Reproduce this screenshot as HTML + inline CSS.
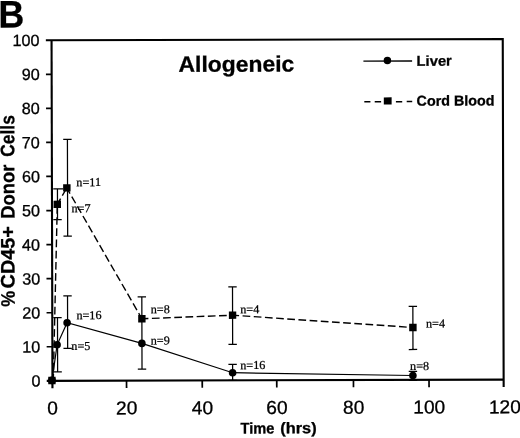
<!DOCTYPE html>
<html><head><meta charset="utf-8"><title>B</title>
<style>
html,body{margin:0;padding:0;background:#fff;}
body{width:520px;height:438px;overflow:hidden;}
svg{display:block;}
text{fill:#000;}
.s{font-family:"Liberation Sans",Arial,Helvetica,sans-serif;stroke:#000;stroke-width:0.3px;}
.t{font-family:"Liberation Serif","Times New Roman",serif;font-size:12.2px;stroke:#000;stroke-width:0.25px;}
</style></head><body>
<svg width="520" height="438" viewBox="0 0 520 438">
<rect width="520" height="438" fill="#fff"/>
<g transform="rotate(-0.15 260 210)">

<g stroke="#000" stroke-width="2.1" fill="none" stroke-linecap="butt">
<path d="M46.3 39.7H503.2V387.6"/>
<path d="M52.0 39.7V387.6"/>
<path d="M46.3 380.3H503.2"/>
</g>
<g stroke="#000" stroke-width="1.7" fill="none">
<path d="M46.3 346.2H52.0"/>
<path d="M46.3 312.2H52.0"/>
<path d="M46.3 278.1H52.0"/>
<path d="M46.3 244.1H52.0"/>
<path d="M46.3 210.0H52.0"/>
<path d="M46.3 175.9H52.0"/>
<path d="M46.3 141.9H52.0"/>
<path d="M46.3 107.8H52.0"/>
<path d="M46.3 73.8H52.0"/>
<path d="M126.1 380.3V387.6"/>
<path d="M201.8 380.3V387.6"/>
<path d="M276.3 380.3V387.6"/>
<path d="M353.0 380.3V387.6"/>
<path d="M428.6 380.3V387.6"/>
</g>
<g class="s" font-size="16.2" text-anchor="end">
<text x="40.0" y="386.0">0</text>
<text x="40.0" y="351.9">10</text>
<text x="40.0" y="317.9">20</text>
<text x="40.0" y="283.8">30</text>
<text x="40.0" y="249.8">40</text>
<text x="40.0" y="215.7">50</text>
<text x="40.0" y="181.6">60</text>
<text x="40.0" y="147.6">70</text>
<text x="40.0" y="113.5">80</text>
<text x="40.0" y="79.5">90</text>
<text x="40.0" y="45.4">100</text>
</g>
<g class="s" font-size="18.8" text-anchor="middle">
<text transform="translate(52.1 414.0) scale(1.02 1)">0</text>
<text transform="translate(126.2 414.0) scale(1.02 1)">20</text>
<text transform="translate(201.9 414.0) scale(1.02 1)">40</text>
<text transform="translate(276.4 414.0) scale(1.02 1)">60</text>
<text transform="translate(353.1 414.0) scale(1.02 1)">80</text>
<text transform="translate(428.7 414.0) scale(1.02 1)">100</text>
<text transform="translate(504.4 414.0) scale(1.02 1)">120</text>
</g>
<g stroke="#000" stroke-width="1.25" fill="none">
<path d="M53.3 188.3h10.0M57.5 188.3V219.2M53.3 219.2h8.4"/>
<path d="M63.4 138.9h8.4M67.6 138.9V235.6M63.4 235.6h8.4"/>
<path d="M137.4 296.5h8.4M141.6 296.5V368.9M137.4 368.9h8.4"/>
<path d="M228.1 286.9h8.4M232.3 286.9V344.4M228.1 344.4h8.4"/>
<path d="M408.4 306.8h8.4M412.6 306.8V349.9M408.4 349.9h8.4"/>
<path d="M53.0 317.2h8.4M57.2 317.2V371.4M53.0 371.4h8.4"/>
<path d="M63.1 295.3h8.4M67.3 295.3V347.8M63.1 347.8h8.4"/>
<path d="M228.0 364.4h8.4M232.2 364.4V380.2M228.0 380.2h8.4"/>
<path d="M408.3 371.8h8.4M412.5 371.8V380.7M408.3 380.7h8.4"/>
</g>
<polyline fill="none" stroke="#000" stroke-width="1.2" points="51.55,379.85 56.75,344.27 66.81,322.19 141.55,343.09 232.17,372.63 412.47,375.9"/>
<g fill="none" stroke="#000" stroke-width="1.4" stroke-dasharray="7.7 3.5" stroke-dashoffset="1.2">
<path d="M52.85 379.86L57.32 203.77"/>
<path d="M57.32 203.77L66.86 187.39"/>
<path d="M66.86 187.39L141.62 318.49"/>
<path d="M141.62 318.49L232.32 315.13"/>
<path d="M232.32 315.13L412.59 327.9"/>
</g>
<circle cx="51.55" cy="379.85" r="3.8" fill="#000"/>
<circle cx="56.75" cy="344.27" r="3.8" fill="#000"/>
<circle cx="66.81" cy="322.19" r="3.8" fill="#000"/>
<circle cx="141.55" cy="343.09" r="3.8" fill="#000"/>
<circle cx="232.17" cy="372.63" r="3.8" fill="#000"/>
<circle cx="412.47" cy="375.9" r="3.8" fill="#000"/>
<rect x="47.8" y="376.2" width="7.4" height="7.4" fill="#000"/>
<rect x="53.6" y="200.1" width="7.4" height="7.4" fill="#000"/>
<rect x="63.2" y="183.7" width="7.4" height="7.4" fill="#000"/>
<rect x="137.9" y="314.8" width="7.4" height="7.4" fill="#000"/>
<rect x="228.6" y="311.4" width="7.4" height="7.4" fill="#000"/>
<rect x="408.9" y="324.2" width="7.4" height="7.4" fill="#000"/>
<g class="t">
<text x="76.4" y="185.7">n=11</text>
<text x="71.5" y="211.7">n=7</text>
<text x="76.1" y="318.7">n=16</text>
<text x="71.0" y="349.5">n=5</text>
<text x="150.5" y="313.0">n=8</text>
<text x="150.4" y="344.2">n=9</text>
<text x="239.9" y="313.2">n=4</text>
<text x="239.8" y="369.1">n=16</text>
<text x="425.7" y="327.9">n=4</text>
<text x="409.7" y="370.4">n=8</text>
</g>
<path d="M363.8 61.4H412.5" stroke="#000" stroke-width="1.3"/>
<circle cx="387.8" cy="60.9" r="3.75" fill="#000"/>
<path d="M364.6 102H370.7M375 102H381.4M396.2 102H402.5M407 102H412.5" stroke="#000" stroke-width="1.5"/>
<rect x="384.1" y="97.7" width="7.8" height="7.2" fill="#000"/>
<text class="s" font-weight="bold" font-size="14.3" transform="translate(417.0 66.1) scale(1.03 1)">Liver</text>
<text class="s" font-weight="bold" font-size="14.3" x="416.9" y="106.1">Cord Blood</text>
<text class="s" font-weight="bold" font-size="22.2" transform="translate(178.9 71.6) scale(1.032 1)">Allogeneic</text>
<text class="s" font-weight="bold" font-size="15.4" transform="translate(240.0 433.4) scale(0.95 1)">Time</text>
<text class="s" font-weight="bold" font-size="15.4" transform="translate(279.6 433.4) scale(1.065 1)">(hrs)</text>
<text class="s" font-weight="bold" font-size="19.5" transform="translate(14.4 306.0) rotate(-90) scale(0.920 1)">%</text>
<text class="s" font-weight="bold" font-size="19.5" transform="translate(14.4 287.8) rotate(-90) scale(1.018 1)">CD45+</text>
<text class="s" font-weight="bold" font-size="19.5" transform="translate(14.4 218.1) rotate(-90) scale(0.943 1)">Donor</text>
<text class="s" font-weight="bold" font-size="19.5" transform="translate(14.4 156.2) rotate(-90) scale(0.896 1)">Cells</text>
<text class="s" font-weight="bold" font-size="38.4" transform="translate(-1.0 26.8) scale(0.93 1)">B</text>
</g></svg></body></html>
